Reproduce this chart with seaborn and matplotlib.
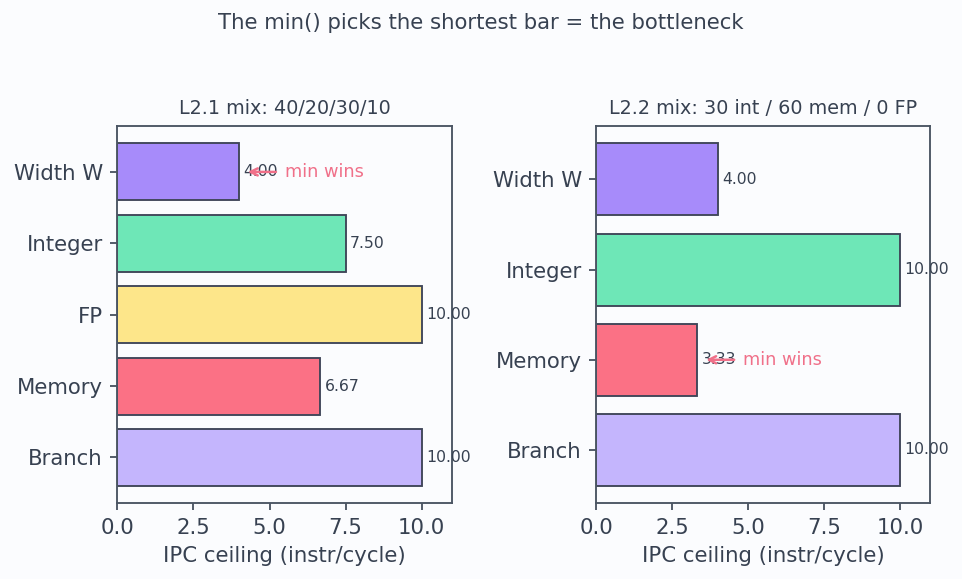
import matplotlib
matplotlib.use('Agg')
import matplotlib.pyplot as plt
import seaborn as sns
import pandas as pd

# data
title_main = 'The min() picks the shortest bar = the bottleneck'
left_title = 'L2.1 mix: 40/20/30/10'
left_cats = ['Width W', 'Integer', 'FP', 'Memory', 'Branch']
left_vals = [4.00, 7.50, 10.00, 6.67, 10.00]
left_cols = ['#a78bfa', '#6ee7b7', '#fde68a', '#fb7185', '#c4b5fd']

right_title = 'L2.2 mix: 30 int / 60 mem / 0 FP'
right_cats = ['Width W', 'Integer', 'Memory', 'Branch']
right_vals = [4.00, 10.00, 3.33, 10.00]
right_cols = ['#a78bfa', '#6ee7b7', '#fb7185', '#c4b5fd']

bg = '#fbfcfe'
ink = '#374151'
edge = '#3f4558'

sns.set_theme(style='ticks', rc={
    'figure.facecolor': bg, 'axes.facecolor': bg,
    'axes.edgecolor': '#4b5563', 'axes.labelcolor': ink,
    'xtick.color': ink, 'ytick.color': ink, 'text.color': ink,
    'axes.linewidth': 0.9,
})
plt.rcParams['font.family'] = ['DejaVu Sans']

fig = plt.figure(figsize=(962 / 150, 579 / 150), dpi=150)
ax1 = fig.add_axes([0.122, 0.131, 0.348, 0.651])
ax2 = fig.add_axes([0.620, 0.131, 0.347, 0.651])


def draw(ax, cats, vals, cols, title):
    df = pd.DataFrame({'cat': cats, 'val': vals})
    sns.barplot(data=df, x='val', y='cat', hue='cat', palette=cols,
                order=cats, hue_order=cats, legend=False, ax=ax,
                edgecolor=edge, linewidth=0.9, width=0.8, saturation=1)
    n = len(cats)
    pad = 0.05 * (n - 1 + 0.8)
    ax.set_ylim(n - 1 + 0.4 + pad, -0.4 - pad)
    ax.set_xlim(0, 11)
    ax.set_xticks([0, 2.5, 5, 7.5, 10])
    ax.set_xticklabels(['0.0', '2.5', '5.0', '7.5', '10.0'])
    ax.tick_params(labelsize=10.2, length=3.5, width=0.8)
    ax.set_xlabel('IPC ceiling (instr/cycle)', fontsize=10.2)
    ax.set_ylabel('')
    ax.set_title(title, fontsize=9.2, color=ink, pad=6)
    for i, v in enumerate(vals):
        ax.text(v + 0.15, i, '{:.2f}'.format(v), va='center', ha='left',
                fontsize=7.5, color=ink)
    # point at the shortest bar
    k = vals.index(min(vals))
    ax.annotate('min wins', xy=(min(vals) + 0.15, k),
                xytext=(min(vals) + 1.5, k), va='center', ha='left',
                fontsize=8.5, color='#f07089',
                arrowprops=dict(arrowstyle='->', color='#f07089', lw=1.2))


draw(ax1, left_cats, left_vals, left_cols, left_title)
draw(ax2, right_cats, right_vals, right_cols, right_title)

fig.suptitle(title_main, fontsize=10.2, color=ink, y=0.978)
fig.savefig('out.png', dpi=150, facecolor=bg)
